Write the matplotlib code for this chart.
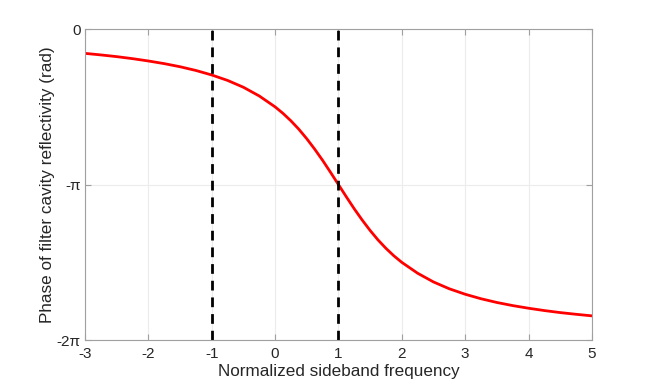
#Phase of filter cavity reflectivity vs normalized sideband frequency
import numpy as np
import matplotlib.pyplot as plt

plt.rcParams['font.family'] = ['Liberation Sans', 'DejaVu Sans']

#Values (phase in units of pi)
freq = [-3, -2.75, -2.5, -2.25, -2, -1.75, -1.5, -1.25, -1, -0.75, -0.5, -0.25,
        0, 0.125, 0.25, 0.375, 0.5, 0.625, 0.75, 0.875, 1, 1.125, 1.25, 1.375,
        1.5, 1.625, 1.75, 1.875, 2, 2.25, 2.5, 2.75, 3, 3.25, 3.5, 3.75, 4,
        4.25, 4.5, 4.75, 5]
phase_pi = [-0.156, -0.166, -0.177, -0.190, -0.205, -0.222, -0.242, -0.266,
            -0.295, -0.330, -0.374, -0.430, -0.5, -0.542, -0.590, -0.644,
            -0.705, -0.772, -0.844, -0.921, -1.0, -1.079, -1.156, -1.228,
            -1.295, -1.356, -1.410, -1.458, -1.5, -1.570, -1.626, -1.670,
            -1.705, -1.734, -1.758, -1.778, -1.795, -1.810, -1.823, -1.834,
            -1.844]
markers_x = [-1, 1]
xticks = [-3, -2, -1, 0, 1, 2, 3, 4, 5]
yticks_pi = [-2, -1, 0]
ytick_labels = ['-2\u03c0', '-\u03c0', '0']

phase = np.array(phase_pi) * np.pi

fig = plt.figure(figsize=(6.54, 3.83), dpi=100)
ax = fig.add_axes([0.130, 0.112, 0.775, 0.812])

ax.plot(freq, phase, color='red', linewidth=2)
for xm in markers_x:
    ax.axvline(xm, color='black', linestyle=(0, (3.5, 2.5)), linewidth=2)

ax.set_xlim(-3, 5)
ax.set_ylim(-2 * np.pi, 0)
ax.set_xticks(xticks)
ax.set_xticklabels([str(t) for t in xticks])
ax.set_yticks(np.array(yticks_pi) * np.pi)
ax.set_yticklabels(ytick_labels)

ax.grid(True, color='#ececec', linewidth=0.8)
ax.set_axisbelow(True)
for sp in ax.spines.values():
    sp.set_color('#a0a0a0')
    sp.set_linewidth(0.8)
ax.tick_params(direction='in', length=4, color='#a0a0a0', labelcolor='#262626',
               labelsize=11, top=True, right=True)
ax.tick_params(axis='x', pad=5)
ax.tick_params(axis='y', pad=3)

ax.set_xlabel('Normalized sideband frequency', fontsize=12.3, color='#262626', labelpad=2)
ax.set_ylabel('Phase of filter cavity reflectivity (rad)', fontsize=12.3, color='#262626', labelpad=1)

plt.savefig('out.png', dpi=100)
